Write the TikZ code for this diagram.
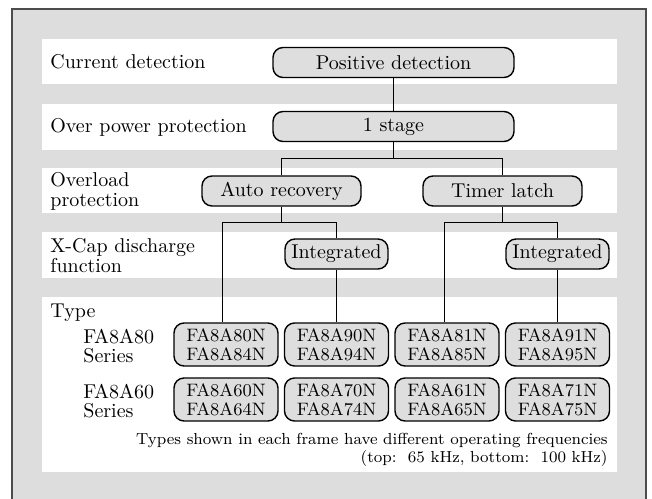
\documentclass[tikz,border=0pt]{standalone}
\usetikzlibrary{positioning}
\definecolor{bandgray}{HTML}{DCDDDC}
\definecolor{boxgray}{HTML}{DEDEDE}

\begin{document}
\begin{tikzpicture}[x=0.5pt,y=-0.5pt,
    pill/.style={draw, rounded corners=5pt, fill=boxgray, line width=0.7pt,
        inner sep=0pt, minimum height=15pt},
    typebox/.style={draw, rounded corners=5pt, fill=boxgray, line width=0.7pt,
        inner sep=0pt, minimum width=52pt, minimum height=21.5pt,
        align=center, font=\fontsize{9}{9.5}\selectfont},
    rowlabel/.style={anchor=west, align=left, inner sep=0pt,
        font=\fontsize{10}{10}\selectfont},
    link/.style={line width=0.7pt}]
    \useasboundingbox (0,0) rectangle (652,498);
    \clip (0,0) rectangle (652,498);
    % frame and bands
    \draw[fill=bandgray, draw=black!70, line width=0.7pt] (12,9) rectangle (646,540);
    \fill[white] (42,39) rectangle (617,84);
    \fill[white] (42,104) rectangle (617,150);
    \fill[white] (42,168) rectangle (617,213);
    \fill[white] (42,232) rectangle (617,278);
    \fill[white] (42,297) rectangle (617,472);
    % row labels
    \node[rowlabel] (lcur) at (50,62) {Current detection};
    \node[rowlabel] (lopp) at (50,127) {Over power protection};
    \node[rowlabel] (lolp) at (50,191) {Overload\\protection};
    \node[rowlabel] (lxcap) at (50,256) {X-Cap discharge\\function};
    \node[rowlabel] (ltype) at (50,313) {Type};
    \node[rowlabel, font=\fontsize{10}{9.5}\selectfont] (l80) at (83,346) {FA8A80\\Series};
    \node[rowlabel, font=\fontsize{10}{9.5}\selectfont] (l60) at (83,401) {FA8A60\\Series};
    % function boxes
    \node[pill, minimum width=120.5pt] (pos) at (393.5,62.5) {Positive detection};
    \node[pill, minimum width=120.5pt] (stage) at (393.5,126.5) {1 stage};
    \node[pill, minimum width=79.5pt] (auto) at (281.5,191) {Auto recovery};
    \node[pill, minimum width=79.5pt] (timer) at (502.5,191) {Timer latch};
    \node[pill, minimum width=51.5pt] (intL) at (336.5,254) {Integrated};
    \node[pill, minimum width=51.5pt] (intR) at (557.5,254) {Integrated};
    % type boxes
    \node[typebox] (t80) at (226,344.5) {FA8A80N\\FA8A84N};
    \node[typebox] (t90) at (336.5,344.5) {FA8A90N\\FA8A94N};
    \node[typebox] (t81) at (447,344.5) {FA8A81N\\FA8A85N};
    \node[typebox] (t91) at (557.5,344.5) {FA8A91N\\FA8A95N};
    \node[typebox] (t60) at (226,399.5) {FA8A60N\\FA8A64N};
    \node[typebox] (t70) at (336.5,399.5) {FA8A70N\\FA8A74N};
    \node[typebox] (t61) at (447,399.5) {FA8A61N\\FA8A65N};
    \node[typebox] (t71) at (557.5,399.5) {FA8A71N\\FA8A75N};
    % note
    \node[anchor=east, align=right, inner sep=0pt, font=\fontsize{8}{9}\selectfont] (note) at (608,450)
        {Types shown in each frame have different operating frequencies\\(top:\ \ 65 kHz, bottom:\ \ 100 kHz)};
    % connectors
    \draw[link] (pos) -- (stage);
    \draw[link] (stage.south) -- ++(0,16) coordinate (splitA) -| (auto.north);
    \draw[link] (splitA) -| (timer.north);
    \draw[link] (auto.south) -- ++(0,16) coordinate (splitB) -| ([xshift=-1.75pt]t80.north);
    \draw[link] (splitB) -| (intL.north);
    \draw[link] (intL) -- (t90);
    \draw[link] (timer.south) -- ++(0,16) coordinate (splitC) -| ([xshift=-1.25pt]t81.north);
    \draw[link] (splitC) -| (intR.north);
    \draw[link] (intR) -- (t91);
\end{tikzpicture}
\end{document}
